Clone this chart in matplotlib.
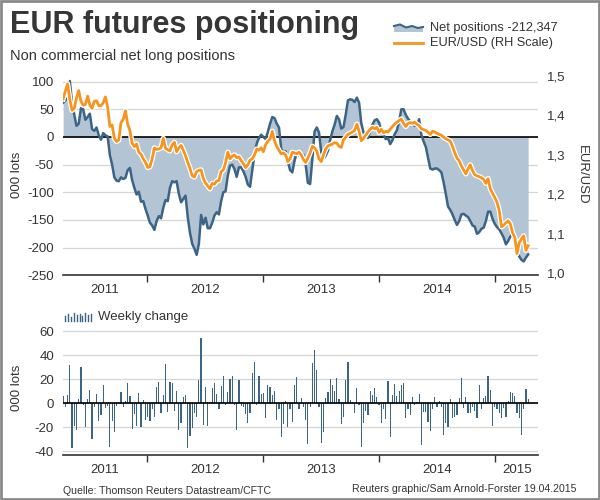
import numpy as np
import pandas as pd
import matplotlib
matplotlib.use("Agg")
import matplotlib.pyplot as plt
import matplotlib.dates as mdates
from matplotlib.ticker import FixedLocator, FixedFormatter, NullFormatter
from matplotlib.patches import Rectangle, Polygon
from matplotlib.lines import Line2D

plt.rcParams['font.family'] = ['Liberation Sans', 'DejaVu Sans']
plt.rcParams['axes.unicode_minus'] = False

# ---------------- data (weekly, CFTC reports) ----------------
start_date = "2011-04-12"

net_positions = [  # 000 lots
    62, 66, 70, 101, 62, 40, 20, 24, 52, 50,
    31, 36, 42, 14, 11, 17, 3, -5, 7, 3,
    1, -33, -50, -73, -79, -80, -73, -76, -74, -60,
    -56, -78, -92, -104, -99, -117, -116, -130, -142, -155,
    -160, -168, -152, -143, -147, -128, -114, -116, -92, -80,
    -82, -80, -103, -118, -112, -106, -145, -173, -193, -202,
    -213, -193, -141, -158, -146, -165, -165, -155, -142, -136,
    -140, -116, -100, -98, -70, -52, -50, -58, -72, -55,
    -55, -62, -72, -86, -90, -60, -32, -12, -2, 4,
    0, -4, 9, 24, 36, 34, 24, 17, -22, -27,
    -26, -44, -60, -64, -43, -28, -33, -35, -32, -50,
    -83, -85, -40, 10, 17, 8, -28, -40, -34, -25,
    -6, 10, 22, 38, 32, 15, 18, 40, 66, 68,
    67, 63, 71, 62, 25, 8, 2, -2, 10, 22,
    30, 32, 26, 10, 4, -4, -2, -13, -6, 5,
    12, 28, 50, 50, 40, 33, 28, 24, 20, 22,
    32, 4, -8, -18, -38, -57, -59, -57, -57, -60,
    -64, -82, -103, -126, -132, -140, -150, -159, -152, -140,
    -139, -142, -145, -152, -160, -162, -175, -172, -166, -164,
    -152, -135, -135, -148, -157, -163, -167, -174, -182, -194,
    -188, -180, -176, -190, -205, -216, -222, -225, -218, -212.347,
]

eurusd = [
    1.442, 1.462, 1.480, 1.440, 1.413, 1.418, 1.445, 1.463, 1.436, 1.426,
    1.428, 1.449, 1.426, 1.418, 1.436, 1.437, 1.425, 1.425, 1.432, 1.447,
    1.420, 1.372, 1.376, 1.342, 1.334, 1.338, 1.382, 1.390, 1.412, 1.378,
    1.362, 1.330, 1.321, 1.328, 1.307, 1.302, 1.290, 1.281, 1.268, 1.270,
    1.290, 1.318, 1.314, 1.315, 1.318, 1.342, 1.317, 1.313, 1.310, 1.326,
    1.332, 1.308, 1.318, 1.324, 1.312, 1.298, 1.281, 1.266, 1.247, 1.244,
    1.258, 1.261, 1.262, 1.240, 1.229, 1.221, 1.214, 1.228, 1.226, 1.234,
    1.235, 1.258, 1.262, 1.280, 1.307, 1.290, 1.297, 1.300, 1.293, 1.295,
    1.286, 1.278, 1.268, 1.275, 1.287, 1.290, 1.300, 1.315, 1.312, 1.318,
    1.308, 1.326, 1.335, 1.340, 1.360, 1.335, 1.322, 1.312, 1.303, 1.305,
    1.300, 1.283, 1.290, 1.307, 1.305, 1.303, 1.307, 1.300, 1.288, 1.281,
    1.292, 1.305, 1.322, 1.318, 1.310, 1.290, 1.283, 1.300, 1.315, 1.323,
    1.325, 1.328, 1.331, 1.330, 1.322, 1.319, 1.338, 1.345, 1.352, 1.355,
    1.358, 1.362, 1.378, 1.360, 1.336, 1.342, 1.350, 1.358, 1.365, 1.370,
    1.366, 1.370, 1.357, 1.365, 1.356, 1.360, 1.358, 1.365, 1.372, 1.378,
    1.383, 1.387, 1.391, 1.380, 1.372, 1.380, 1.382, 1.380, 1.383, 1.378,
    1.374, 1.366, 1.364, 1.362, 1.357, 1.352, 1.360, 1.358, 1.355, 1.352,
    1.350, 1.345, 1.341, 1.338, 1.335, 1.322, 1.305, 1.292, 1.285, 1.272,
    1.262, 1.252, 1.265, 1.275, 1.260, 1.250, 1.247, 1.245, 1.242, 1.238,
    1.228, 1.240, 1.214, 1.203, 1.192, 1.180, 1.160, 1.118, 1.122, 1.128,
    1.133, 1.125, 1.103, 1.091, 1.050, 1.078, 1.087, 1.095, 1.058, 1.070,
]

weekly_change = [  # 000 lots
    6, -3, 7, 32, -37, -19, -22, 4, 30, -1,
    -20, 4, 11, -30, -3, 8, -15, -10, 15, -4,
    -2, -36, -15, -24, -2.5, 1, 9.4, -3, 2, 17,
    6, -21, -9, -19, 9, -20, 3, -14, -11, -15,
    -5, -11, 14, 18, -8, 7, 33, -7, 18, 17,
    -6, 10, -22, -16, 5, 7, -37, -27.5, -20.5, -8,
    -11, 19.7, 54.4, -18, 14, -19, 1, 12.8, 16.7, 7.8,
    -5, 14.4, 22.5, -1, 9.4, 20, 23, -1, -22, 19.7,
    -2, -3, -9, -16, -8, 25, 34.4, -1, 22.5, 7.8,
    8.3, -12, 15.5, 14, 7, 10, -13.6, -5, -28, -17,
    1.7, -20, -4.4, -15.6, 15, 21.7, -4.4, 4.4, -3, -13.6,
    -34, -3, 33.6, 44, 27.8, -2.8, -33, -24, 4.4, 9.4,
    20, 15, 10.6, 21, 3.9, -17, -11, 19.4, 34.4, 2.8,
    1, -8, 12.8, -1, -36.7, -16.4, -6.7, -9.4, 10, 6.7,
    12.8, 5.6, -1.7, -16.4, -4.4, -12.8, 19, -27.8, 6.7, 16,
    5.8, 10, 15, 16.7, -12, -5, -9.4, 5, -1.7, 1,
    7.8, -34.4, -7, -7, -15.6, -23, -4.4, 5.6, -2.8, 1.7,
    -3, -26, -16.4, -20, 3.6, -12, -11, -10, 4.4, 21,
    -4, 5.6, -8.3, -8.3, -3, -6, -12, 15, -4.4, 4.4,
    5.8, 22.5, 11, -19, -2.8, -5, -8, -12, -4, -11,
    1.7, 9.4, 8.3, 5.8, -8, -12, -26.7, -4.4, 12.2, 3.6,
]

years = [2011, 2012, 2013, 2014, 2015]
net_ticks = [100, 50, 0, -50, -100, -150, -200, -250]
eur_ticks = [1.0, 1.1, 1.2, 1.3, 1.4, 1.5]
eur_tick_labels = ["1,0", "1,1", "1,2", "1,3", "1,4", "1,5"]
change_ticks = [60, 40, 20, 0, -20, -40]

n = len(net_positions)
assert len(eurusd) == n and len(weekly_change) == n, (n, len(eurusd), len(weekly_change))
dates = pd.date_range(start_date, periods=n, freq="7D")

# ---------------- style ----------------
BLUE = "#3b6486"
FILL = "#b3c5d5"
ORANGE = "#f7941d"
GRID = "#d6d6d6"
TXT = "#333333"

W, H = 600, 500
fig = plt.figure(figsize=(6, 5), dpi=100)

def fx(px):
    return px / W

def fy(py):
    return 1 - py / H

ax1 = fig.add_axes([fx(63), fy(275.3), fx(538) - fx(63), fy(76) - fy(275.3)])
ax2 = ax1.twinx()
ax3 = fig.add_axes([fx(63), fy(454.7), fx(538) - fx(63), fy(308) - fy(454.7)])

xmin = dates[0] - pd.Timedelta(days=0.5)
xmax = dates[-1] + pd.Timedelta(days=31)

# ---- top chart ----
ax1.fill_between(dates, net_positions, 0, color=FILL, lw=0, zorder=2)
ax1.axhline(0, color="black", lw=1.2, zorder=3)
ax1.plot(dates, net_positions, color=BLUE, lw=1.8, zorder=4, solid_joinstyle="round")
ax2.plot(dates, eurusd, color="white", lw=3.8, solid_joinstyle="round")
ax2.plot(dates, eurusd, color=ORANGE, lw=2.0, solid_joinstyle="round")

ax1.set_ylim(-249.6, 110.1)
ax2.set_ylim(0.995, 1.5)
ax1.set_yticks(net_ticks)
ax1.set_yticklabels([str(t) for t in net_ticks])
ax2.set_yticks(eur_ticks)
ax2.set_yticklabels(eur_tick_labels)
ax1.yaxis.grid(True, color=GRID, lw=0.9)
ax1.set_axisbelow(True)

# ---- bottom chart ----
ax3.bar(dates, weekly_change, width=3.8, color=BLUE, linewidth=0, zorder=3)
ax3.axhline(0, color="black", lw=1.2, zorder=4)
ax3.set_ylim(-42.8, 79.4)
ax3.set_yticks(change_ticks)
ax3.set_yticklabels([str(t) for t in change_ticks])
ax3.yaxis.grid(True, color=GRID, lw=0.9)
ax3.set_axisbelow(True)

# ---- common x-axis formatting ----
mids, labs = [], []
for y in years:
    s = max(pd.Timestamp(f"{y}-01-01"), xmin)
    e = min(pd.Timestamp(f"{y + 1}-01-01"), xmax)
    mids.append(mdates.date2num(s + (e - s) / 2))
    labs.append(str(y))

for ax in (ax1, ax2, ax3):
    ax.set_xlim(xmin, xmax)
    for sp in ("left", "right", "top"):
        ax.spines[sp].set_visible(False)
    ax.spines["bottom"].set_color(TXT)
    ax.spines["bottom"].set_linewidth(1.2)

for ax in (ax1, ax3):
    ax.xaxis.set_major_locator(mdates.YearLocator())
    ax.xaxis.set_major_formatter(NullFormatter())
    ax.xaxis.set_minor_locator(FixedLocator(mids))
    ax.xaxis.set_minor_formatter(FixedFormatter(labs))
    ax.tick_params(axis="x", which="major", length=5, width=1, color=TXT)
    ax.tick_params(axis="x", which="minor", length=0, pad=6.5, labelsize=9.5, labelcolor=TXT)
    ax.tick_params(axis="y", length=0, pad=6.5, labelsize=9.5, labelcolor=TXT)
ax2.tick_params(axis="y", length=0, pad=6.3, labelsize=9.5, labelcolor=TXT)
ax2.spines["bottom"].set_visible(False)

# ---- texts ----
fig.text(fx(10), fy(33.3), "EUR futures positioning", fontsize=22, fontweight="bold",
         color="#363636", va="baseline", ha="left")
fig.text(fx(9.6), fy(56), "Non commercial net long positions", fontsize=10.5,
         color=TXT, va="center", ha="left")

fig.text(fx(17), fy(175), "000 lots", rotation=90, fontsize=9.5, color=TXT,
         ha="center", va="center")
fig.text(fx(582), fy(175), "EUR/USD", rotation=270, fontsize=9.5, color=TXT,
         ha="center", va="center")
fig.text(fx(17), fy(388), "000 lots", rotation=90, fontsize=9.5, color=TXT,
         ha="center", va="center")

# legend (top)
icon = Polygon([(fx(394), fy(32)), (fx(394), fy(26)), (fx(400), fy(24.5)), (fx(406), fy(27.5)),
                (fx(412), fy(26)), (fx(418), fy(28)), (fx(423), fy(27)), (fx(423), fy(32))],
               closed=True, transform=fig.transFigure, facecolor=FILL, edgecolor="none")
fig.add_artist(icon)
fig.add_artist(Line2D([fx(394), fx(400), fx(406), fx(412), fx(418), fx(423)],
                      [fy(26), fy(24.5), fy(27.5), fy(26), fy(28), fy(27)],
                      transform=fig.transFigure, color=BLUE, lw=1.5))
fig.add_artist(Line2D([fx(394), fx(423)], [fy(43), fy(43)], transform=fig.transFigure,
                      color=ORANGE, lw=2))
fig.text(fx(430.5), fy(28.3), f"Net positions {net_positions[-1] * 1000:,.0f}",
         fontsize=9.2, color=TXT, va="center", ha="left")
fig.text(fx(430.5), fy(42.7), "EUR/USD (RH Scale)", fontsize=9.2, color=TXT,
         va="center", ha="left")

# legend (bottom)
icon_h = [5, 7, 4, 8, 6, 7, 5, 8, 6, 7]
for k, h in enumerate(icon_h):
    x = fx(65 + k * 2.9)
    fig.add_artist(Line2D([x, x], [fy(321), fy(321 - h)], transform=fig.transFigure,
                          color=BLUE, lw=1))
fig.text(fx(98), fy(317), "Weekly change", fontsize=9.5, color=TXT, va="center", ha="left")

# footer
fig.text(fx(63), fy(491), "Quelle: Thomson Reuters Datastream/CFTC", fontsize=7.6,
         color=TXT, va="center", ha="left")
fig.text(fx(576), fy(489), "Reuters graphic/Sam Arnold-Forster 19.04.2015", fontsize=7.6,
         color=TXT, va="center", ha="right")

# frame
fig.add_artist(Rectangle((0.0015, 0.002), 0.997, 0.996, transform=fig.transFigure,
                         fill=False, edgecolor="#8a8a8a", lw=2))

fig.savefig("out.png", dpi=100)
